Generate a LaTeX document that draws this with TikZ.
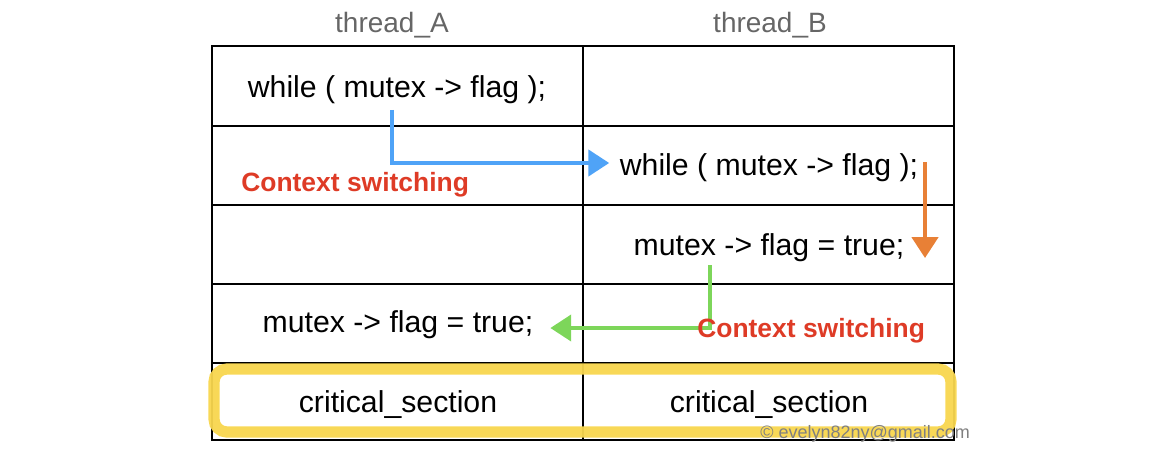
\documentclass[tikz,border=0pt]{standalone}
\usepackage{fontspec}
\setmainfont{Liberation Sans}
\usepackage{tikz}
\usetikzlibrary{arrows.meta, positioning, calc}
\definecolor{hdgray}{HTML}{666666}
\definecolor{cpgray}{HTML}{808080}
\definecolor{ctxred}{HTML}{DE3B26}
\definecolor{swblue}{HTML}{4FA3F7}
\definecolor{sworange}{HTML}{E88036}
\definecolor{swgreen}{HTML}{7DD65A}
\definecolor{hlyellow}{HTML}{F8D64E}
\tikzset{
  code/.style={font=\fontsize{21.5}{26}\selectfont, anchor=base, inner sep=0pt},
  head/.style={font=\fontsize{19.9}{24}\selectfont, text=hdgray, anchor=base, inner sep=0pt},
  ctx/.style={font=\fontsize{18.8}{22}\selectfont\bfseries, text=ctxred, anchor=base west, inner sep=0pt},
  flow/.style={line width=0.1cm, -{Triangle[length=0.52cm,width=0.65cm]}},
  grid/.style={line width=0.75pt},
}
\begin{document}
\begin{tikzpicture}[x=0.025cm, y=-0.025cm]
\useasboundingbox (0,0) rectangle (1168,460);
% Table
\draw[grid] (212,46) rectangle (954,440);
\draw[grid] (583,46)--(583,440);
\foreach \y in {126,205,284,363} \draw[grid] (212,\y)--(954,\y);
% Headers
\node[head] (hdA) at (392,32) {thread\_A};
\node[head] (hdB) at (770,32) {thread\_B};
% Statements
\node[code] (a1) at (397,97) {while ( mutex -> flag );};
\node[code] (b2) at (769,175) {while ( mutex -> flag );};
\node[code] (b3) at (769,255) {mutex -> flag = true;};
\node[code] (a4) at (398,332) {mutex -> flag = true;};
% Switches
\coordinate (blueBend) at (392,163);
\coordinate (orEnd) at (925,258);
\coordinate (grBend) at (710,328);
\draw[flow, swblue, shorten <=0.16cm, shorten >=0.26cm] (a1.south -| blueBend) -- (blueBend) -- (b2.west |- blueBend);
\draw[flow, sworange, shorten <=-0.12cm] (b2.east -| orEnd) -- (orEnd);
\draw[flow, swgreen, shorten <=0.09cm, shorten >=0.42cm] (b3.south -| grBend) -- (grBend) -- (a4.east |- grBend);
\node[ctx] (ctxA) at (241,191) {Context switching};
\node[ctx] (ctxB) at (697,337) {Context switching};
% Critical section
\draw[hlyellow, line width=0.28cm, rounded corners=0.32cm, opacity=0.95] (214,369) rectangle (951,432);
\node[code] (csA) at (398,412) {critical\_section};
\node[code] (csB) at (769,412) {critical\_section};
\node[anchor=base west, inner sep=0pt, font=\fontsize{12.8}{15}\selectfont, text=cpgray] (cpr) at (760,438) {© evelyn82ny@gmail.com};
\end{tikzpicture}
\end{document}
